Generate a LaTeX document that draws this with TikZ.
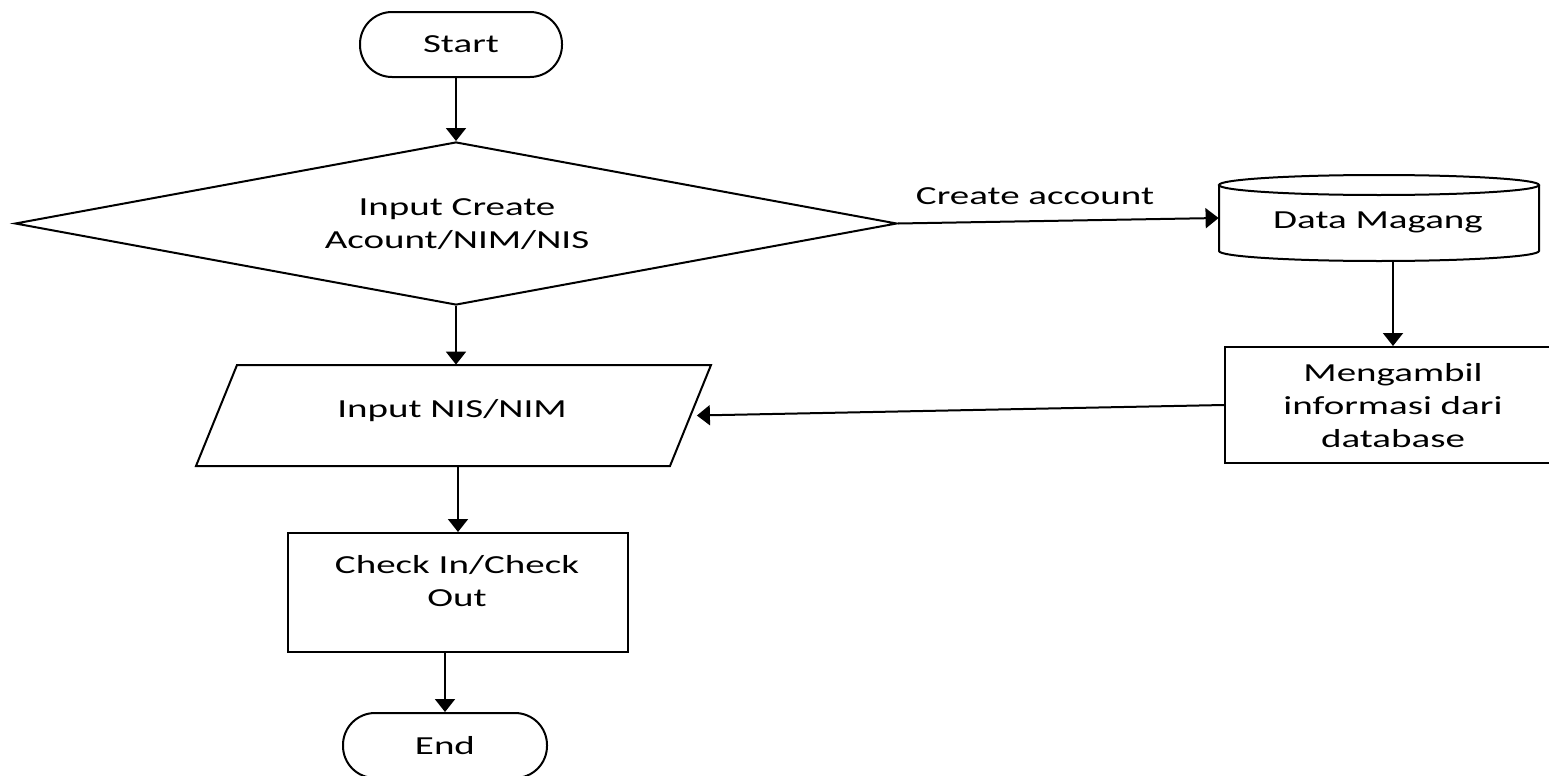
\documentclass[tikz,border=0pt]{standalone}
\usepackage{fontspec}
\setmainfont{Carlito}[FakeStretch=1.5]
\usetikzlibrary{shapes.geometric,arrows.meta}
\tikzset{
  base/.style={draw=black, line width=1pt, inner sep=0pt, align=center},
  term/.style={base, rounded corners=16pt, minimum width=101pt, minimum height=32.5pt},
  procbox/.style={base, rectangle},
  txt/.style={inner sep=0pt, align=center},
  shapeline/.style={line width=1pt, line join=miter},
  arr/.style={line width=1pt, -{Triangle[length=6.5pt,width=10pt]}}
}
\begin{document}
\begin{tikzpicture}[x=0.5pt,y=-0.5pt,font=\fontsize{13}{16.5}\selectfont]
\useasboundingbox (0,0) rectangle (1549,776);
\clip (0,0) rectangle (1549,776);
% Start
\node[term] (st) at (461,44.5) {Start};
% Decision
\node[base, diamond, aspect=5.4, minimum width=441pt, minimum height=81.5pt] (dia) at (456,223.5) {};
\node[txt] (diatxt) at (457,224.5) {Input Create\\Acount/NIM/NIS};
% Parallelogram (input)
\draw[shapeline] (237,365) -- (711,365) -- (670,466) -- (196,466) -- cycle;
\node[txt, minimum width=237pt, minimum height=50.5pt] (par) at (453.5,415.5) {};
\node[txt] (partxt) at (452,411) {Input NIS/NIM};
% Check box
\node[procbox, minimum width=170pt, minimum height=59.5pt] (chk) at (458,592.5) {};
\node[txt] (chktxt) at (457,581.5) {Check In/Check\\Out};
% End
\node[term, minimum width=102pt] (en) at (445,745.5) {End};
% Cylinder Data Magang
\draw[line width=1pt] (1379,185) ellipse [x radius=160, y radius=10];
\draw[line width=1pt] (1219,185) -- (1219,251)
   arc[start angle=180, end angle=0, x radius=160, y radius=10] -- (1539,185);
\node[txt, minimum width=160pt, minimum height=43pt] (dm) at (1379,218) {};
\node[txt] (dmtxt) at (1378,222) {Data Magang};
% Mengambil box
\node[procbox, minimum width=168pt, minimum height=58pt] (mb) at (1393,405) {};
\node[txt] (mbtxt) at (1393,406) {Mengambil\\informasi dari\\database};
% Connectors
\draw[arr] (dia.north |- st.south) -- (dia.north);
\draw[arr] (dia.east) -- (dm.west);
\node[txt] (lbl) at (1035,196) {Create account};
\draw[arr] (mb.north |- dm.south) -- (mb.north);
\draw[arr] (mb.west) -- ([xshift=3pt]par.east);
\draw[arr] (dia.south) -- (dia.south |- par.north);
\draw[arr] (chk.north |- par.south) -- (chk.north);
\draw[arr] (en.north |- chk.south) -- (en.north);
\end{tikzpicture}
\end{document}
